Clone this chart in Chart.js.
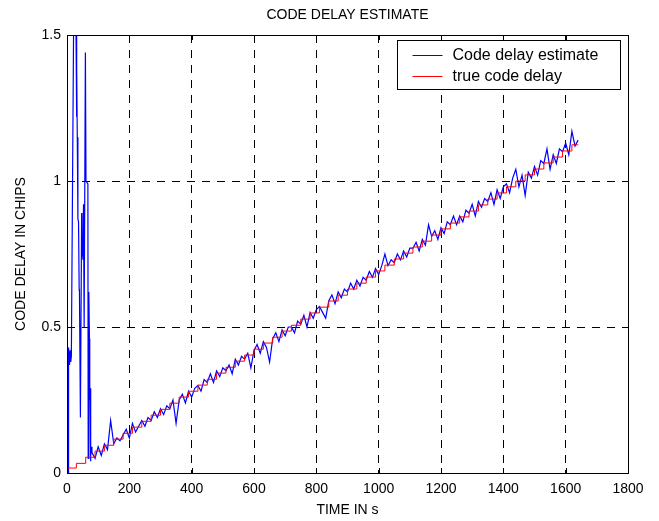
<!DOCTYPE html>
<html>
<head>
<meta charset="utf-8">
<style>
  html, body { margin: 0; padding: 0; background: #fff; }
  #wrap { width: 659px; height: 521px; }
</style>
</head>
<body>
<div id="wrap"><canvas id="delayChart" width="659" height="521"></canvas></div>
<script src="https://cdn.jsdelivr.net/npm/chart.js"></script>
<script>
// true code delay: staircase, value holds from each step time onward
const trueTimes = [0, 30, 60, 90, 120, 150, 180, 210, 240, 270, 300, 330, 360, 390, 420, 450, 480, 510, 540, 570,
  600, 630, 660, 690, 720, 750, 780, 810, 840, 870, 900, 930, 960, 990, 1020, 1050, 1080, 1110, 1140, 1170,
  1200, 1230, 1260, 1290, 1320, 1350, 1380, 1410, 1440, 1470, 1500, 1530, 1560, 1590, 1620, 1640];
const trueDelay = [0.017, 0.033, 0.054, 0.075, 0.095, 0.116, 0.136, 0.157, 0.177, 0.198, 0.218, 0.239, 0.260, 0.280,
  0.301, 0.321, 0.342, 0.362, 0.383, 0.404, 0.424, 0.445, 0.465, 0.486, 0.506, 0.527, 0.548, 0.568, 0.589, 0.609,
  0.630, 0.650, 0.671, 0.692, 0.712, 0.733, 0.753, 0.774, 0.794, 0.815, 0.836, 0.856, 0.877, 0.897, 0.918, 0.938,
  0.959, 0.980, 1.000, 1.021, 1.041, 1.062, 1.082, 1.103, 1.124, 1.124];

// estimate during acquisition (irregular times)
const earlyTimes = [0, 4, 5, 8, 10, 12, 14, 21, 29, 30, 31, 32, 33, 35, 37, 39, 40, 43, 47, 48, 50, 51, 53, 55,
  59, 61, 67, 68, 70, 72, 73, 74, 75, 76, 77, 79];
const earlyEst = [0, 0, 0.43, 0.37, 0.42, 0.38, 0.40, 1.5, 1.5, 1.38, 1.22, 1.39, 1.15, 0.87, 0.86, 0.63, 0.62,
  0.19, 0.89, 0.75, 0.76, 0.73, 0.92, 0.50, 1.44, 1.0, 0.99, 0.05, 0.62, 0.46, 0.25, 0.29, 0.04, 0.26, 0.06, 0.09];

// estimate while tracking, sampled every 10 s from 80 s
const trackStart = 80, trackStep = 10;
const trackEst = [0.07, 0.05, 0.09, 0.06, 0.10, 0.08, 0.18, 0.10, 0.12, 0.11, 0.13, 0.15, 0.12, 0.17, 0.14, 0.16,
  0.18, 0.16, 0.19, 0.18, 0.21, 0.19, 0.22, 0.20, 0.23, 0.22, 0.25, 0.17, 0.25, 0.27, 0.24, 0.28, 0.26, 0.29,
  0.30, 0.28, 0.32, 0.31, 0.34, 0.31, 0.35, 0.33, 0.36, 0.35, 0.37, 0.34, 0.39, 0.37, 0.40, 0.39, 0.41, 0.36,
  0.42, 0.44, 0.41, 0.45, 0.43, 0.38, 0.46, 0.48, 0.45, 0.49, 0.47, 0.50, 0.50, 0.48, 0.52, 0.51, 0.54, 0.50,
  0.55, 0.53, 0.56, 0.57, 0.55, 0.53, 0.59, 0.61, 0.58, 0.62, 0.60, 0.63, 0.62, 0.65, 0.63, 0.66, 0.64, 0.67,
  0.66, 0.69, 0.67, 0.70, 0.68, 0.71, 0.75, 0.71, 0.73, 0.72, 0.75, 0.73, 0.76, 0.74, 0.77, 0.77, 0.79, 0.76,
  0.80, 0.78, 0.85, 0.81, 0.83, 0.80, 0.84, 0.82, 0.86, 0.85, 0.88, 0.85, 0.88, 0.86, 0.90, 0.89, 0.92, 0.88,
  0.93, 0.91, 0.94, 0.93, 0.96, 0.92, 0.97, 0.94, 0.98, 0.99, 0.96, 1.01, 1.04, 0.98, 1.02, 0.95, 1.03, 1.01,
  1.05, 1.02, 1.07, 1.06, 1.11, 1.04, 1.09, 1.06, 1.11, 1.10, 1.13, 1.09, 1.17, 1.12, 1.14];

const xTicks = [0, 200, 400, 600, 800, 1000, 1200, 1400, 1600, 1800];
const yTicks = [0, 0.5, 1, 1.5];

const estPoints = earlyTimes.map((t, i) => ({ x: t, y: earlyEst[i] }));
trackEst.forEach((v, i) => estPoints.push({ x: trackStart + i * trackStep, y: v }));
const truePoints = trueTimes.map((t, i) => ({ x: t, y: trueDelay[i] }));

const FONT = 'Liberation Sans, Arial, sans-serif';

// matlab style frame: box, inward ticks, titles, legend
const framePlugin = {
  id: 'frame',
  afterDraw(chart) {
    const ctx = chart.ctx;
    const a = chart.chartArea;
    const xs = chart.scales.x, ys = chart.scales.y;
    ctx.save();
    ctx.strokeStyle = '#000';
    ctx.lineWidth = 1;
    ctx.setLineDash([]);
    ctx.beginPath();
    xTicks.forEach(t => {
      const px = Math.round(xs.getPixelForValue(t)) + 0.5;
      ctx.moveTo(px, a.bottom); ctx.lineTo(px, a.bottom - 5);
      ctx.moveTo(px, a.top); ctx.lineTo(px, a.top + 5);
    });
    yTicks.forEach(t => {
      const py = Math.round(ys.getPixelForValue(t)) + 0.5;
      ctx.moveTo(a.left, py); ctx.lineTo(a.left + 5, py);
      ctx.moveTo(a.right, py); ctx.lineTo(a.right - 5, py);
    });
    ctx.stroke();
    ctx.strokeRect(Math.round(a.left) + 0.5, Math.round(a.top) + 0.5,
      Math.round(a.right - a.left), Math.round(a.bottom - a.top));

    ctx.fillStyle = '#000';
    ctx.font = '14px ' + FONT;
    ctx.textAlign = 'center';
    ctx.textBaseline = 'middle';
    const cx = (a.left + a.right) / 2;
    ctx.fillText('CODE DELAY ESTIMATE', cx, 15);
    ctx.fillText('TIME IN s', cx, 510);
    ctx.save();
    ctx.translate(21, (a.top + a.bottom) / 2);
    ctx.rotate(-Math.PI / 2);
    ctx.fillText('CODE DELAY IN CHIPS', 0, 0);
    ctx.restore();

    // legend
    const lx = 397.5, ly = 40.5, lw = 223, lh = 49;
    ctx.fillStyle = '#fff';
    ctx.fillRect(lx, ly, lw, lh);
    ctx.strokeRect(lx, ly, lw, lh);
    const items = [['Code delay estimate', '#0000ff'], ['true code delay', '#ff0000']];
    ctx.textAlign = 'left';
    ctx.font = '16px ' + FONT;
    items.forEach((it, i) => {
      const y = Math.round(ly + 14 + i * 21) + 0.5;
      ctx.strokeStyle = it[1];
      ctx.beginPath();
      ctx.moveTo(lx + 15, y); ctx.lineTo(lx + 45, y);
      ctx.stroke();
      ctx.fillStyle = '#000';
      ctx.fillText(it[0], lx + 55, y);
    });
    ctx.restore();
  }
};

new Chart(document.getElementById('delayChart'), {
  type: 'line',
  data: {
    datasets: [
      {
        label: 'true code delay',
        data: truePoints,
        borderColor: '#ff0000',
        borderWidth: 1,
        pointRadius: 0,
        stepped: 'before',
        order: 0
      },
      {
        label: 'Code delay estimate',
        data: estPoints,
        borderColor: '#0000ff',
        borderWidth: 1.2,
        pointRadius: 0,
        tension: 0,
        order: 1
      }
    ]
  },
  options: {
    responsive: false,
    animation: false,
    events: [],
    layout: { padding: { top: 35, right: 31, left: 0, bottom: 0 } },
    plugins: { legend: { display: false }, tooltip: { enabled: false }, title: { display: false } },
    scales: {
      x: {
        type: 'linear',
        min: 0, max: 1800,
        afterFit: s => { s.height = 48; },
        afterBuildTicks: s => { s.ticks = xTicks.map(v => ({ value: v })); },
        grid: { color: '#000', drawTicks: false },
        border: { display: false, dash: [8, 7] },
        ticks: { color: '#000', padding: 8, font: { family: FONT, size: 14 }, maxRotation: 0,
          callback: v => String(v) }
      },
      y: {
        min: 0, max: 1.5,
        afterFit: s => { s.width = 67; },
        afterBuildTicks: s => { s.ticks = yTicks.map(v => ({ value: v })); },
        grid: { color: '#000', drawTicks: false },
        border: { display: false, dash: [8, 7] },
        ticks: { color: '#000', padding: 6, font: { family: FONT, size: 14 },
          callback: v => String(v) }
      }
    }
  },
  plugins: [framePlugin]
});
</script>
</body>
</html>
